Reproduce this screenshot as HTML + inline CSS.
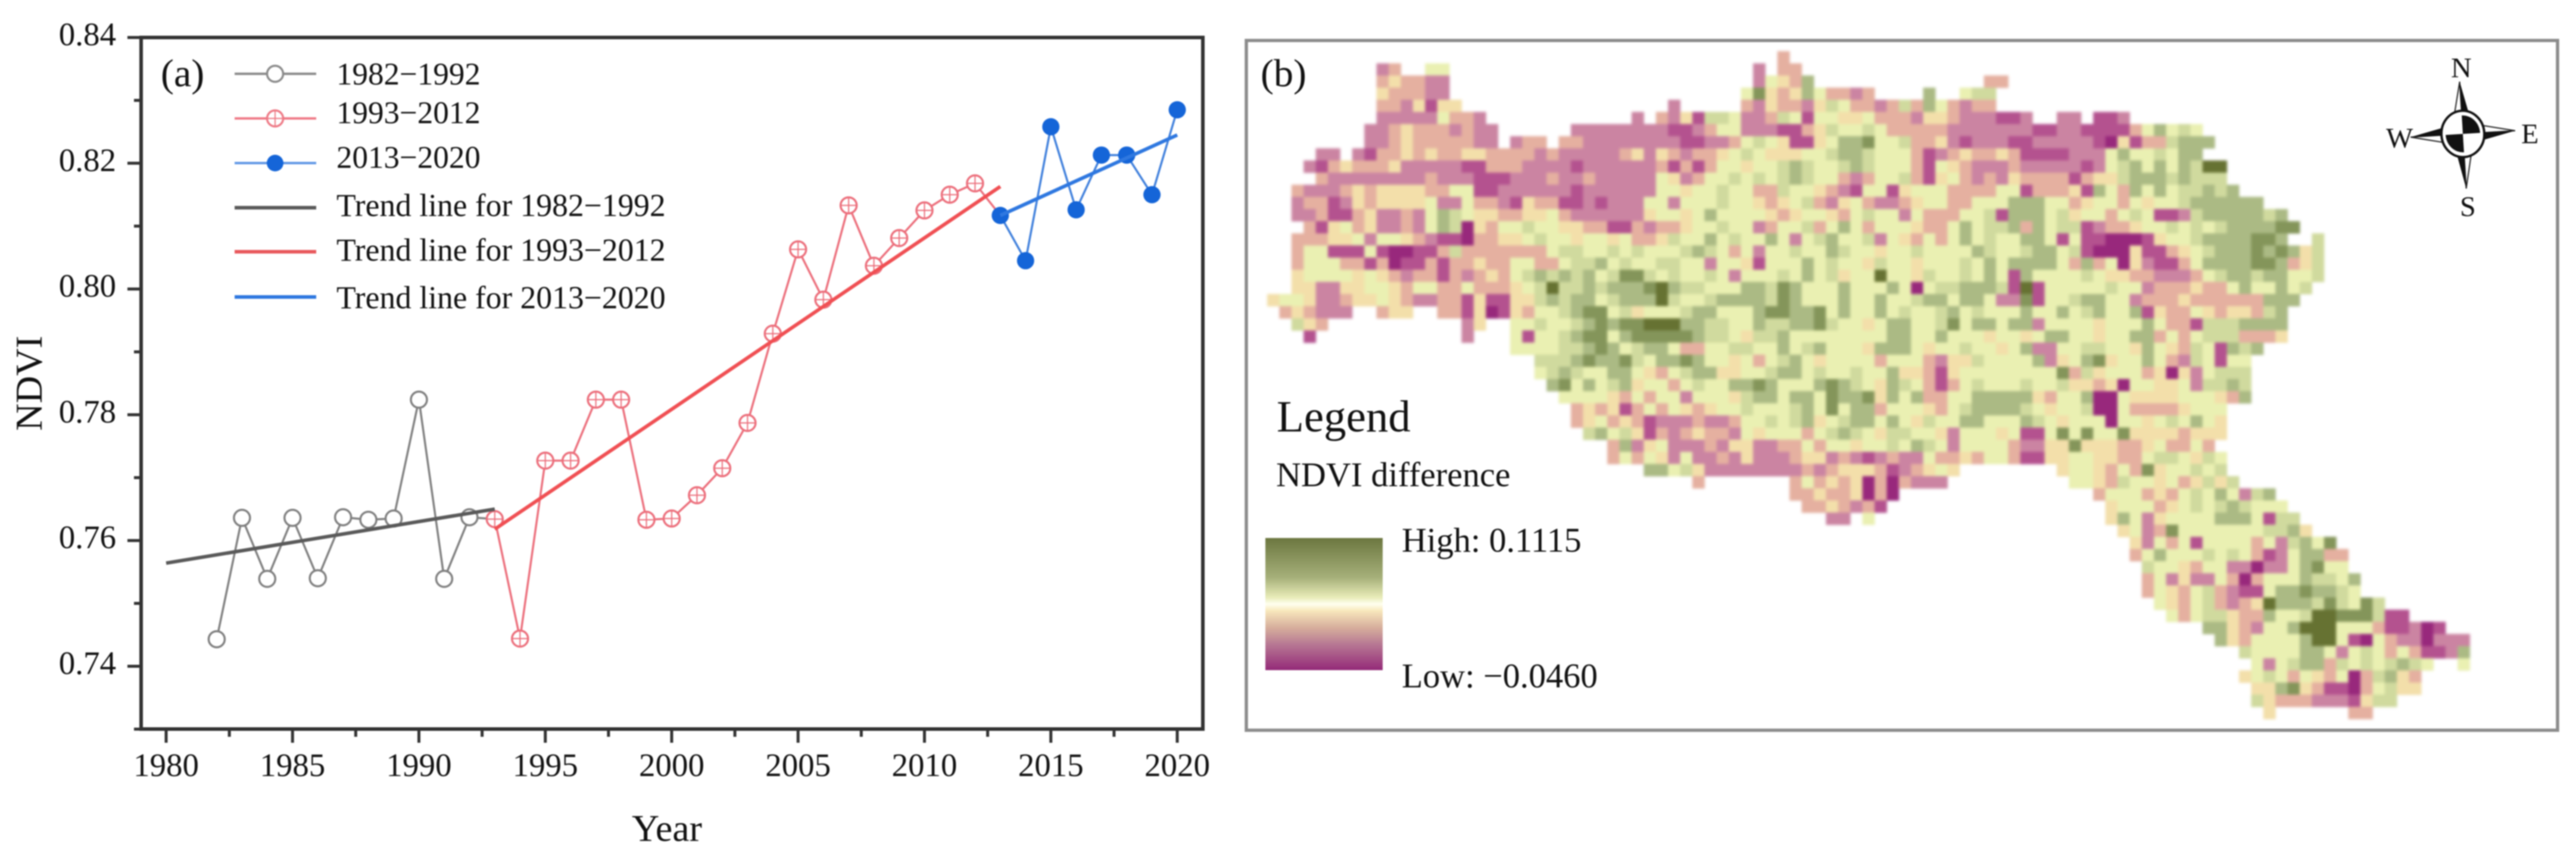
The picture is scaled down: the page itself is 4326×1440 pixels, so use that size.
<!DOCTYPE html>
<html lang="en">
<head>
<meta charset="utf-8">
<title>NDVI trend and NDVI difference map</title>
<style>
html,body{margin:0;padding:0;background:#fff;}
svg{display:block;filter:blur(1px);}
text{font-family:"Liberation Serif",serif;fill:#111;}
</style>
</head>
<body>
<svg id="figure" xmlns="http://www.w3.org/2000/svg" width="4326" height="1440" viewBox="0 0 4326 1440">
  <defs>
    <linearGradient id="legendRamp" x1="0" y1="0" x2="0" y2="1">
      <stop offset="0" stop-color="#6c7740"/>
      <stop offset="0.3" stop-color="#a6b07a"/>
      <stop offset="0.45" stop-color="#e8ecb8"/>
      <stop offset="0.5" stop-color="#fffff0"/>
      <stop offset="0.55" stop-color="#f8e8bc"/>
      <stop offset="0.68" stop-color="#d6ae9c"/>
      <stop offset="0.8" stop-color="#b87a94"/>
      <stop offset="1" stop-color="#942a78"/>
    </linearGradient>
  </defs>
  <rect x="0" y="0" width="4326" height="1440" fill="#fff"/>

  <g id="chartA"></g>

  <g id="legendA">
    <text x="270" y="145" font-size="66">(a)</text>
    <g>
      <line x1="394" x2="531" y1="124" y2="124" stroke="#8a8a8a" stroke-width="4"/>
      <circle cx="462" cy="124" r="13.5" fill="#fff" stroke="#8a8a8a" stroke-width="3.5"/>
      <text x="565" y="142" font-size="53">1982−1992</text>
    </g>
    <g>
      <line x1="394" x2="531" y1="199" y2="199" stroke="#ee7a86" stroke-width="4"/>
      <circle cx="462" cy="199" r="13.5" fill="#fff" stroke="#ee7a86" stroke-width="3.5"/>
      <line x1="448.5" x2="475.5" y1="199" y2="199" stroke="#ee7a86" stroke-width="2"/>
      <line x1="462" x2="462" y1="185.5" y2="212.5" stroke="#ee7a86" stroke-width="2"/>
      <text x="565" y="207" font-size="53">1993−2012</text>
    </g>
    <g>
      <line x1="394" x2="531" y1="274" y2="274" stroke="#5f97e6" stroke-width="4"/>
      <circle cx="462" cy="274" r="14" fill="#1565d8"/>
      <text x="565" y="282" font-size="53">2013−2020</text>
    </g>
    <g>
      <line x1="394" x2="531" y1="349" y2="349" stroke="#5a5a5a" stroke-width="6"/>
      <text x="565" y="363" font-size="53.5">Trend line for 1982−1992</text>
    </g>
    <g>
      <line x1="394" x2="531" y1="423" y2="423" stroke="#e8585c" stroke-width="6"/>
      <text x="565" y="438" font-size="53.5">Trend line for 1993−2012</text>
    </g>
    <g>
      <line x1="394" x2="531" y1="499" y2="499" stroke="#2f78e0" stroke-width="6"/>
      <text x="565" y="518" font-size="53.5">Trend line for 2013−2020</text>
    </g>
  </g>

  <rect x="2093" y="68" width="2202" height="1159" fill="#fff" stroke="#8c8c8c" stroke-width="5.5"/>
  <g id="mapCells" style="filter:blur(2.5px)"></g>
  <text x="2117" y="145" font-size="66">(b)</text>

  <g>
    <text x="2144" y="725" font-size="75">Legend</text>
    <text x="2143" y="817" font-size="58">NDVI difference</text>
    <rect x="2125" y="904" width="197" height="222" fill="url(#legendRamp)"/>
    <text x="2354" y="927" font-size="58">High: 0.1115</text>
    <text x="2354" y="1155" font-size="58">Low: −0.0460</text>
  </g>

  <g>
    <g transform="translate(4136,225) rotate(-3.5)">
      <path d="M0,-88 L-13,-30 L0,-30 Z" fill="#fff" stroke="#222" stroke-width="2"/>
      <path d="M0,-88 L13,-30 L0,-30 Z" fill="#111"/>
      <path d="M0,92 L13,30 L0,30 Z" fill="#fff" stroke="#222" stroke-width="2"/>
      <path d="M0,92 L-13,30 L0,30 Z" fill="#111"/>
      <path d="M88,0 L30,-13 L30,0 Z" fill="#fff" stroke="#222" stroke-width="2"/>
      <path d="M88,0 L30,13 L30,0 Z" fill="#111"/>
      <path d="M-88,0 L-30,13 L-30,0 Z" fill="#fff" stroke="#222" stroke-width="2"/>
      <path d="M-88,0 L-30,-13 L-30,0 Z" fill="#111"/>
      <ellipse cx="0" cy="0" rx="36" ry="39" fill="#fff" stroke="#111" stroke-width="4"/>
      <path d="M0,0 L0,-31 A29,31 0 0 1 29,0 Z" fill="#111"/>
      <path d="M0,0 L0,31 A29,31 0 0 1 -29,0 Z" fill="#111"/>
    </g>
    <text x="4116" y="130" font-size="48" fill="#333">N</text>
    <text x="4131" y="363" font-size="48" fill="#333">S</text>
    <text x="4007" y="248" font-size="48" fill="#333">W</text>
    <text x="4234" y="241" font-size="48" fill="#333">E</text>
  </g>
</svg>

<script>
// ---------- Panel (a) data ----------
var yearsGrey = [1982,1983,1984,1985,1986,1987,1988,1989,1990,1991,1992];
var ndviGrey = [0.7443,0.7636,0.7539,0.7636,0.754,0.7637,0.7633,0.7635,0.7824,0.7539,0.7637];
var yearsRed = [1993,1994,1995,1996,1997,1998,1999,2000,2001,2002,2003,2004,2005,2006,2007,2008,2009,2010,2011,2012];
var ndviRed = [0.7634,0.7444,0.7727,0.7727,0.7824,0.7824,0.7633,0.7635,0.7672,0.7715,0.7787,0.7929,0.8063,0.7983,0.8133,0.8037,0.8081,0.8125,0.815,0.8168];
var yearsBlue = [2013,2014,2015,2016,2017,2018,2019,2020];
var ndviBlue = [0.8117,0.8045,0.8258,0.8126,0.8213,0.8213,0.815,0.8285];
var trendGreyYears = [1980,1993];
var trendGreyValues = [0.7564,0.765];
var trendRedYears = [1993,2013];
var trendRedValues = [0.7618,0.8163];
var trendBlueYears = [2013,2020];
var trendBlueValues = [0.8117,0.8245];
var xMajorTicks = [1980,1985,1990,1995,2000,2005,2010,2015,2020];
var xMinorTicks = [1982.5,1987.5,1992.5,1997.5,2002.5,2007.5,2012.5,2017.5];
var yMajorTicks = [0.74,0.76,0.78,0.80,0.82,0.84];
var yMinorTicks = [0.73,0.75,0.77,0.79,0.81,0.83];

// ---------- Panel (b) data: grid rows, "startColumn:levels" segments, level 0 (low) to 9 (high) ----------
var mapRows = [
"42:3",
"9:23 13:55 40:2 42:33",
"9:343322 40:25437 59:33",
"9:433322 39:58434753323 54:7 57:566",
"9:3324144 33:2 39:32433246533236 53:3753233",
"9:222225332 30:2 32:3241 36:66522365155445333 53:2443222112 65:22 68:112",
"8:22343332322 25:2222222211235522211346556533 53:333222222211221111357565",
"8:22343333322 20:233 24:33222222221122356541145778556 53:3342122211222221041336777",
"4:22 7:21334343344333323 24:22222342432334565444556776555 53:312343343111122257556577",
"3:2134333422222 16:11333222 24:21222222 32:3131 36:355 39:45567655676555 53:31543222322222125675757699",
"4:3222222223222 17:111 20:222322322222 32:5423 36:556 39:56567655323556 53:31453232433331344677767666",
"2:322 5:23434 10:44433 15:55112 20:2222 24:21222222 32:554 35:55655 40:336554 46:3215514 53:555333355133341753757566767",
"2:233124344445225332 20:14331121222552555655 40:43456324532234553355 60:57775534553545567777 80:77",
"2:223113422325765443 20:34453222222455457555 40:54345543565525333556 60:17775645535651126777 80:7767",
"3:31453422325760435 20:56554433113233455655 40:23556357535554335756 60:67375661233455656567 80:77788",
"2:333445255432110334 20:45655455453346557565 40:57525675562543535756 60:55775151100014556777 80:7887 86:6",
"2:355111510011363333 20:33356655656555676535 40:25565576554556555576 60:55677561000411345677 80:78787 85:46",
"2:355533130113133433 20:55335667565566552554 40:15557565546554555657 60:57777537350421135777 80:7887346",
"2:455554543233132343 20:56767675688656556525 40:55657564559554655657 60:51755556544332223567 80:7677556",
"2:442244554355335333 20:45696676777897665557 40:76875557555750566777 60:61915555565523334335 80:755756",
"0:45542234454322331411 20:44676775677796556777 40:76875557557556775775 60:22815567755233343333 80:33777",
"1:343222 9:344 14:33 16:1 17:4 18:01 20:43556788564555677555 40:78877857557565567565 60:55755756755714335434 80:4367",
"2:643 16:24 20:556556 26:78 28:7 29:88 31:999 34:776655 40:76677865545775568577 60:57725555455575331666 80:7777",
"3:1 16:2 20:51556788578888876654 40:66755555555775575554 60:55457755455773535666 80:3334",
"20:55556678756775335566 40:55756755547775455655 60:45722556655475436517 80:67",
"22:666787786577875545 40:35675455553555324465 60:55572457845575326515 80:5",
"22:567655775435677445 40:56775655655744314555 60:55555836455534042566 80:6",
"23:78575674553565577 40:87555787654765313565 60:55655644340554452667 80:6",
"24:5555435355255546 40:77577587784757335577 60:77743557005444455543 80:7",
"25:343413535434556 40:55567585773555435677 60:7765455600533334555",
"25:345343122232235 40:56567456775754655775 60:5576545550554565754",
"26:67564132343325 40:45553567654665542555 60:4511585855844443444",
"28:372452223244 40:22335355455657652555 60:532244844433453353",
"28:353542522324 40:22234423212322533435 60:5311445544335665465",
"31:775642222 40:22223234443123454 65:45543538455656",
"35:3 43:3534340303222 66:55436554534646",
"43:334334030 68:355534356575267",
"44:3343231 69:455534565676555",
"46:22 49:5 69:4752455557775166",
"70:4523855555556674",
"71:42535155553526758",
"71:357555656531257733",
"72:65543552202257855",
"72:352422530355576657",
"72:354356321157787765",
"73:5435632349777686586",
"74:53566433755699888611",
"77:77432557999555311201",
"78:743555579951053220222",
"80:6555577525653531127",
"81:525677365656765 98:5",
"80:456535435036743",
"81:44784311035644",
"81:643332221466",
"82:4 89:33"
];

var SVGNS = "http://www.w3.org/2000/svg";

function xScale(year){ return 279 + (year - 1980) * 42.45; }
function yScale(v){ return 1119.5 - (v - 0.74) / 0.02 * 211.3; }

function make(tag, attrs, parent){
  var e = document.createElementNS(SVGNS, tag);
  for (var k in attrs) e.setAttribute(k, attrs[k]);
  parent.appendChild(e);
  return e;
}

function pointsOf(xs, ys){
  return xs.map(function(x, i){ return xScale(x).toFixed(1) + "," + yScale(ys[i]).toFixed(1); }).join(" ");
}

var chart = document.getElementById("chartA");

// axes
var SPINE = "#333";
var leftX = 237, rightX = 2020, topY = 63, bottomY = 1225;
var frame = make("rect", {x:leftX, y:topY, width:rightX-leftX, height:bottomY-topY, fill:"none", stroke:SPINE, "stroke-width":6}, chart);



xMajorTicks.forEach(function(t){
  var tick = make("line", {x1:xScale(t), x2:xScale(t), y1:bottomY, y2:1248, stroke:SPINE, "stroke-width":5}, chart);
  
  
  var label = make("text", {x:xScale(t), y:1304, "font-size":55, "text-anchor":"middle", fill:"#222"}, chart);
  label.textContent = String(t);
  
  
});
xMinorTicks.forEach(function(t){
  var tick = make("line", {x1:xScale(t), x2:xScale(t), y1:bottomY, y2:1238, stroke:SPINE, "stroke-width":5}, chart);
  
  
});
yMajorTicks.forEach(function(t){
  var tick = make("line", {x1:214, x2:leftX, y1:yScale(t), y2:yScale(t), stroke:SPINE, "stroke-width":5}, chart);
  
  
  var label = make("text", {x:195, y:yScale(t)+13, "font-size":55, "text-anchor":"end", fill:"#222"}, chart);
  label.textContent = t.toFixed(2);
  
  
});
yMinorTicks.forEach(function(t){
  var tick = make("line", {x1:225, x2:leftX, y1:yScale(t), y2:yScale(t), stroke:SPINE, "stroke-width":5}, chart);
  
  
});

var xTitle = make("text", {x:1061, y:1413, "font-size":64, fill:"#222"}, chart);
xTitle.textContent = "Year";


var yTitle = make("text", {x:0, y:0, "font-size":64, "text-anchor":"middle", fill:"#222", transform:"translate(70,644) rotate(-90)"}, chart);
yTitle.textContent = "NDVI";



// series lines (each runs on to the first point of the following period)
var lineGrey = make("polyline", {points:pointsOf(yearsGrey.concat(yearsRed[0]), ndviGrey.concat(ndviRed[0])), fill:"none", stroke:"#808080", "stroke-width":3.5}, chart);


var lineRed = make("polyline", {points:pointsOf(yearsRed.concat(yearsBlue[0]), ndviRed.concat(ndviBlue[0])), fill:"none", stroke:"#ec6f7c", "stroke-width":3.5}, chart);


var lineBlue = make("polyline", {points:pointsOf(yearsBlue, ndviBlue), fill:"none", stroke:"#4080dc", "stroke-width":3.5}, chart);



// markers
yearsGrey.forEach(function(yr, i){
  var c = make("circle", {cx:xScale(yr), cy:yScale(ndviGrey[i]), r:13.5, fill:"#fff", stroke:"#808080", "stroke-width":3.5}, chart);
  
  
});
yearsRed.forEach(function(yr, i){
  var cx = xScale(yr), cy = yScale(ndviRed[i]);
  var g = make("g", {}, chart);
  
  
  make("circle", {cx:cx, cy:cy, r:13.5, fill:"#fff", stroke:"#ec6f7c", "stroke-width":3.5}, g);
  make("line", {x1:cx-13.5, x2:cx+13.5, y1:cy, y2:cy, stroke:"#ec6f7c", "stroke-width":2}, g);
  make("line", {x1:cx, x2:cx, y1:cy-13.5, y2:cy+13.5, stroke:"#ec6f7c", "stroke-width":2}, g);
});
yearsBlue.forEach(function(yr, i){
  var c = make("circle", {cx:xScale(yr), cy:yScale(ndviBlue[i]), r:14.5, fill:"#1565d8"}, chart);
  
  
});

// trend lines
var trendGrey = make("polyline", {points:pointsOf(trendGreyYears, trendGreyValues), fill:"none", stroke:"#5a5a5a", "stroke-width":6}, chart);


var trendRed = make("polyline", {points:pointsOf(trendRedYears, trendRedValues), fill:"none", stroke:"#f05054", "stroke-width":6}, chart);


var trendBlue = make("polyline", {points:pointsOf(trendBlueYears, trendBlueValues), fill:"none", stroke:"#2f78e0", "stroke-width":6}, chart);



// ---------- Panel (b) map ----------
function levelColor(level){
  return ["#98287c","#b4528f","#cb84a2","#e5b0a0","#f3dfaa","#eaf0b2","#d0da9e","#abba84","#84955a","#667232"][level];
}
function colX(col){ return 2128 + col * 20.4; }
function rowY(row){ return 86 + row * 20.4; }

var mapGroup = document.getElementById("mapCells");
mapRows.forEach(function(rowText, row){
  var cells = {};
  rowText.split(" ").forEach(function(segment){
    var parts = segment.split(":");
    var start = parseInt(parts[0], 10);
    for (var i = 0; i < parts[1].length; i++) cells[start + i] = parseInt(parts[1][i], 10);
  });
  Object.keys(cells).forEach(function(key){
    var col = parseInt(key, 10);
    var cell = make("rect", {x:colX(col).toFixed(1), y:rowY(row).toFixed(1), width:20.9, height:20.9, fill:levelColor(cells[key])}, mapGroup);
    
    
  });
});
</script>
</body>
</html>
